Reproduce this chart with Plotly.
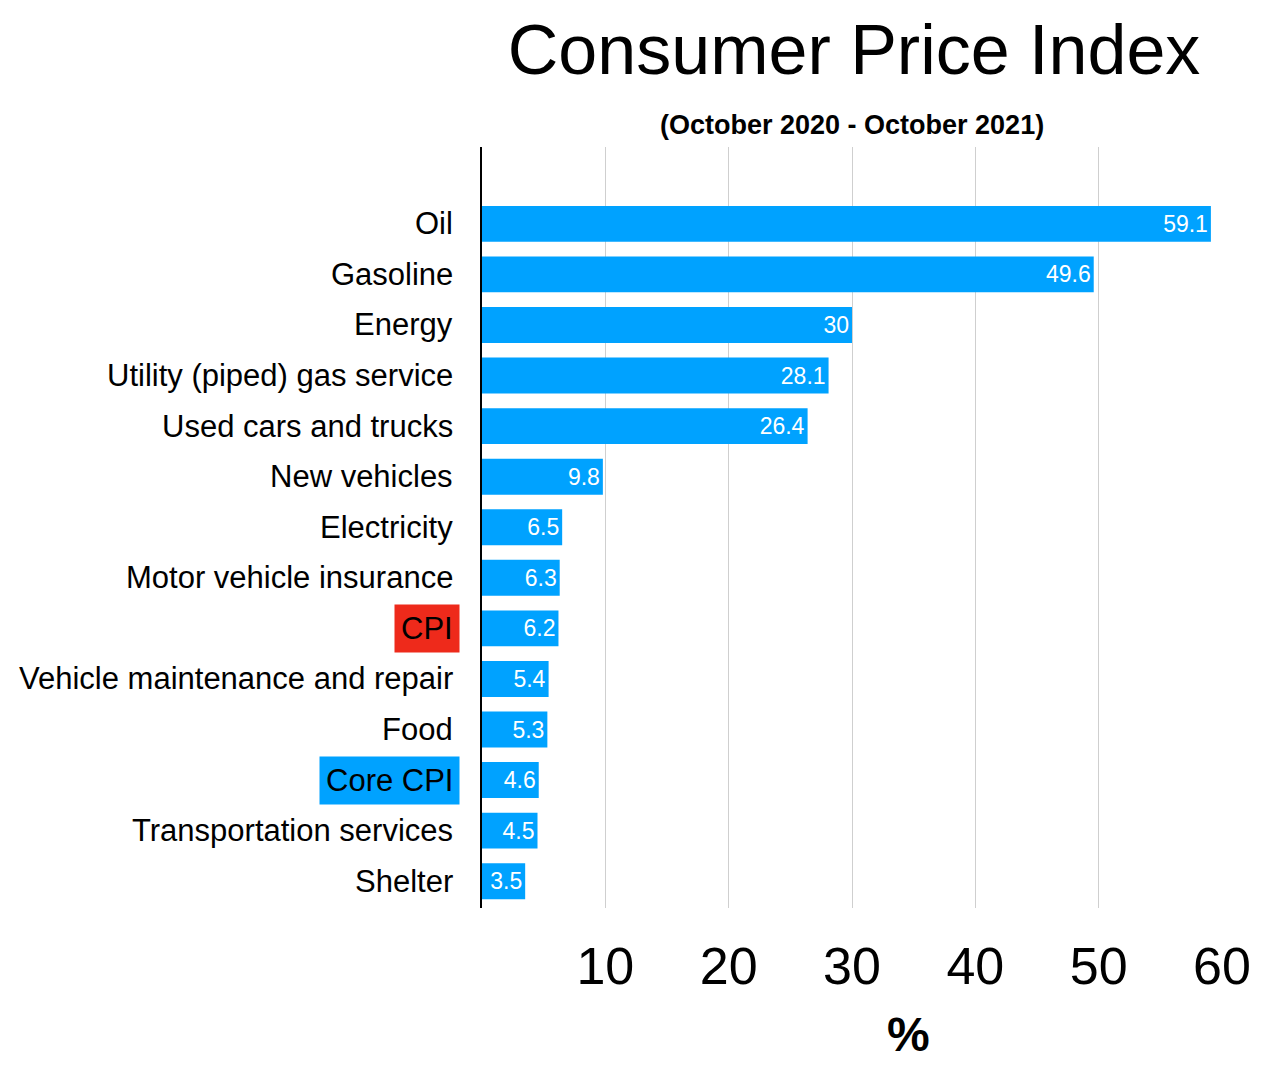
import plotly.graph_objects as go

categories = ["Oil", "Gasoline", "Energy", "Utility (piped) gas service",
              "Used cars and trucks", "New vehicles", "Electricity",
              "Motor vehicle insurance", "CPI", "Vehicle maintenance and repair",
              "Food", "Core CPI", "Transportation services", "Shelter"]
values = [59.1, 49.6, 30, 28.1, 26.4, 9.8, 6.5, 6.3, 6.2, 5.4, 5.3, 4.6, 4.5, 3.5]
tick_vals = [10, 20, 30, 40, 50, 60]

BLUE = "#00A2FF"
FONT = "Liberation Sans, Arial, sans-serif"

fig = go.Figure()
fig.add_trace(go.Bar(
    x=values, y=categories, orientation="h",
    marker=dict(color=BLUE, line=dict(width=0)),
    width=0.71,
    text=[str(v) for v in values], textposition="inside", insidetextanchor="end",
    textfont=dict(color="white", size=23, family=FONT),
    hoverinfo="skip",
))

# category labels as annotations so CPI / Core CPI can get a highlight
label_bg = {"CPI": "#EE2A1B", "Core CPI": BLUE}
for c in categories:
    fig.add_annotation(
        x=-0.03, xref="paper", y=c, yref="y", text=c, showarrow=False,
        xanchor="right", yanchor="middle",
        font=dict(size=31, color="black", family=FONT),
        bgcolor=label_bg.get(c, "rgba(0,0,0,0)"), borderpad=6,
    )

# subtitle and axis unit
fig.add_annotation(x=0.5, xref="paper", y=1.0, yref="paper", yshift=39,
                   text="<b>(October 2020 - October 2021)</b>", showarrow=False,
                   font=dict(size=27, family=FONT, color="black"))
fig.add_annotation(x=0.577, xref="paper", y=0, yref="paper", yshift=-155,
                   text="<b>%</b>", showarrow=False,
                   font=dict(size=48, family=FONT, color="black"))

fig.update_layout(
    width=1280, height=1072,
    paper_bgcolor="white", plot_bgcolor="white",
    margin=dict(l=474, r=66, t=139, b=172),
    showlegend=False,
    title=dict(text="Consumer Price Index", x=0.661, xanchor="center", y=0.961, yanchor="middle",
               font=dict(size=70, family=FONT, color="black")),
    font=dict(family=FONT, color="black"),
)

fig.update_xaxes(range=[0, 60], tickvals=tick_vals, showgrid=True, gridcolor="#CFCFCF", gridwidth=1,
                 zeroline=False, showline=False, ticks="", tickfont=dict(size=52, family=FONT),
                 ticklabelstandoff=23)
fig.update_yaxes(categoryorder="array", categoryarray=categories, range=[13.53, -1.52],
                 showticklabels=False, showgrid=False, zeroline=False, ticks="",
                 showline=True, linecolor="black", linewidth=2)

fig.write_html("out.html")
